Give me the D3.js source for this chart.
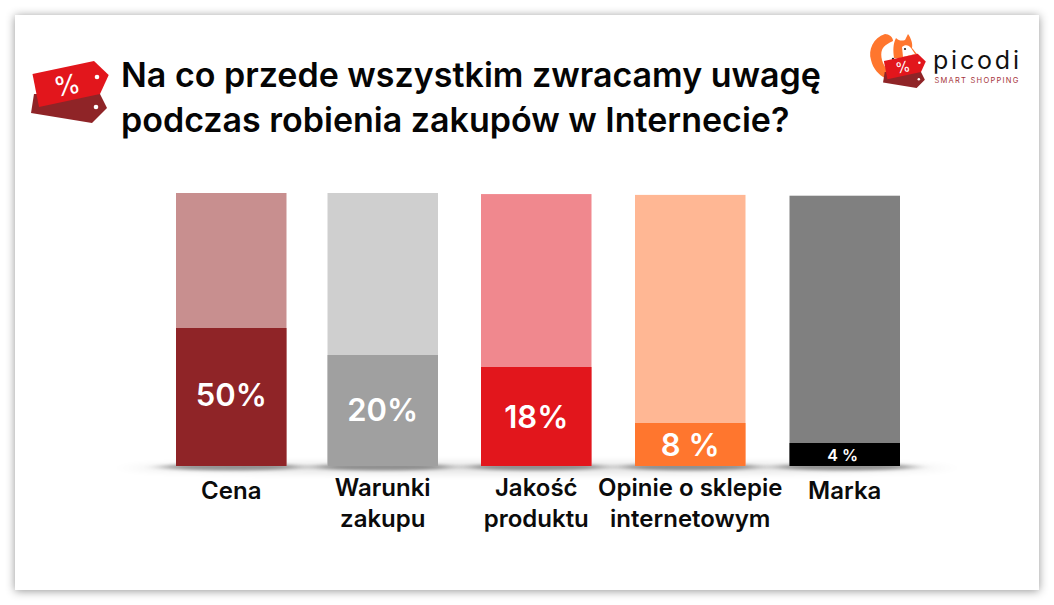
<!DOCTYPE html>
<html><head><meta charset="utf-8">
<script src="https://cdnjs.cloudflare.com/ajax/libs/d3/7.8.5/d3.min.js"></script>
<style>html,body{margin:0;padding:0;background:#fff;overflow:hidden}svg{display:block}text{font-family:Inter,Lato,sans-serif}</style>
</head><body><svg id="c" width="1054" height="605"></svg>
<script>
const categories=[["Cena"],["Warunki","zakupu"],["Jakość","produktu"],["Opinie o sklepie","internetowym"],["Marka"]];
const values=[50,20,18,8,4];
const trackValues=[100,100,99.6,99.3,99];
const valueLabels=["50%","20%","18%","8 %","4 %"];
const solidColors=["#8f2427","#a0a0a0","#e2161c","#ff762e","#000000"];
const paleColors=["#c88f8f","#cfcfcf","#f0888e","#ffb794","#808080"];
const titleLines=["Na co przede wszystkim zwracamy uwagę","podczas robienia zakupów w Internecie?"];

const svg=d3.select("#c");
const defs=svg.append("defs");
defs.append("filter").attr("id","cardShadow").attr("x","-5%").attr("y","-5%").attr("width","110%").attr("height","110%")
  .append("feDropShadow").attr("dx",0).attr("dy",1).attr("stdDeviation",5).attr("flood-color","#000").attr("flood-opacity",.42);
defs.append("filter").attr("id","blur").attr("x","-10%").attr("y","-200%").attr("width","120%").attr("height","500%")
  .append("feGaussianBlur").attr("stdDeviation","16 3.5");
defs.append("filter").attr("id","blur2").attr("x","-30%").attr("y","-300%").attr("width","160%").attr("height","700%")
  .append("feGaussianBlur").attr("stdDeviation","10 1.8");

svg.append("rect").attr("x",15).attr("y",15).attr("width",1024).attr("height",575).attr("fill","#fff").attr("filter","url(#cardShadow)");

const x=d3.scaleOrdinal().domain(d3.range(5)).range([176,327.5,481,635,789.5]);
const barW=110.5;
const y=d3.scaleLinear().domain([0,4,8,18,20,50,100]).range([466,443,423,367,355,328,193]);
const idx=d3.range(5);

svg.append("ellipse").attr("cx",537).attr("cy",468).attr("rx",405).attr("ry",6).attr("fill","#000").attr("opacity",.1).attr("filter","url(#blur)");
svg.selectAll("ellipse.b").data(idx).join("ellipse").attr("class","b").attr("cx",i=>x(i)+barW/2).attr("cy",467)
  .attr("rx",barW/2+14).attr("ry",3.5).attr("fill","#000").attr("opacity",.38).attr("filter","url(#blur2)");

const g=svg.append("g");
g.selectAll("rect.p").data(idx).join("rect").attr("class","p").attr("x",i=>x(i)).attr("width",barW)
  .attr("y",i=>y(trackValues[i])).attr("height",i=>y(0)-y(trackValues[i])).attr("fill",i=>paleColors[i]);
g.selectAll("rect.s").data(idx).join("rect").attr("class","s").attr("x",i=>x(i)).attr("width",barW)
  .attr("y",i=>y(values[i])).attr("height",i=>y(0)-y(values[i])).attr("fill",i=>solidColors[i]);

g.selectAll("text.v").data(idx).join("text").attr("class","v").attr("text-anchor","middle")
  .attr("x",i=>x(i)+barW/2-(i==4?2:0))
  .attr("y",i=>(y(values[i])+y(0))/2+[9,10,11,11,6][i])
  .attr("fill","#fff").attr("font-weight",600)
  .attr("font-size",i=>i==4?16:31).text(i=>valueLabels[i]);

const catY=[499,496,496,496,499];
const lab=svg.selectAll("text.c").data(idx).join("text").attr("class","c").attr("text-anchor","middle")
  .attr("fill","#0b0b0b").attr("font-size",24).attr("font-weight",600).attr("y",i=>catY[i]);
lab.selectAll("tspan").data(i=>categories[i].map(t=>({t,i}))).join("tspan")
  .attr("x",d=>x(d.i)+barW/2).attr("dy",(d,j)=>j?30.5:0).text(d=>d.t);

svg.selectAll("text.t").data(titleLines).join("text").attr("class","t").attr("x",121)
  .attr("y",(d,i)=>87+i*45).attr("font-size",34).attr("font-weight",600).attr("fill","#050505").text(d=>d);

function tags(sel){
  sel.append("path").attr("d","M34 94L100 94L107 108L92 123L31 113Z").attr("fill","#8f2427");
  sel.append("path").attr("d","M32.5 74L94 61L108.7 75L100 94L39 107Z").attr("fill","#e2161c");
  sel.append("circle").attr("cx",97).attr("cy",77).attr("r",2.3).attr("fill","#fff");
  sel.append("circle").attr("cx",96).attr("cy",107).attr("r",2.3).attr("fill","#fff");
  sel.append("text").attr("transform","translate(69,94.5) rotate(-12)").attr("text-anchor","middle").attr("font-size",27).attr("font-weight",400).attr("fill","#fff").text("%");
}
svg.append("g").call(tags);

const fox=svg.append("g");
fox.append("path").attr("d","M885 34C873 38 868 50 871 60C873 69 879 75 885 78L888 70C882 65 880 55 882 50C884 45 889 43 893 41C893 37 889 34 885 34Z").attr("fill","#ff762e");
fox.append("path").attr("d","M894 58C893 50 893 44 896 38C899 41 902 41 905 40L908 34C911 38 913 44 912 48C914 50 915 52 917 54L900 58Z").attr("fill","#ff762e");
fox.append("path").attr("d","M902 47C905 44 909 45 911 48L915 54L903 57Z").attr("fill","#fff");
fox.append("circle").attr("cx",905).attr("cy",49).attr("r",1.1).attr("fill","#222");
fox.append("circle").attr("cx",893).attr("cy",59).attr("r",1.2).attr("fill","#222");
svg.append("g").attr("transform","translate(866,20.3) scale(.55)").call(tags);
svg.append("text").attr("x",933).attr("y",68.5).attr("font-size",25).attr("font-weight",400).attr("letter-spacing",2.8).attr("fill","#111").text("picodi");
svg.append("text").attr("x",934.5).attr("y",83).attr("font-size",7.5).attr("font-weight",400).attr("letter-spacing",1.25).attr("fill","#a6343a").text("SMART SHOPPING");
</script></body></html>
